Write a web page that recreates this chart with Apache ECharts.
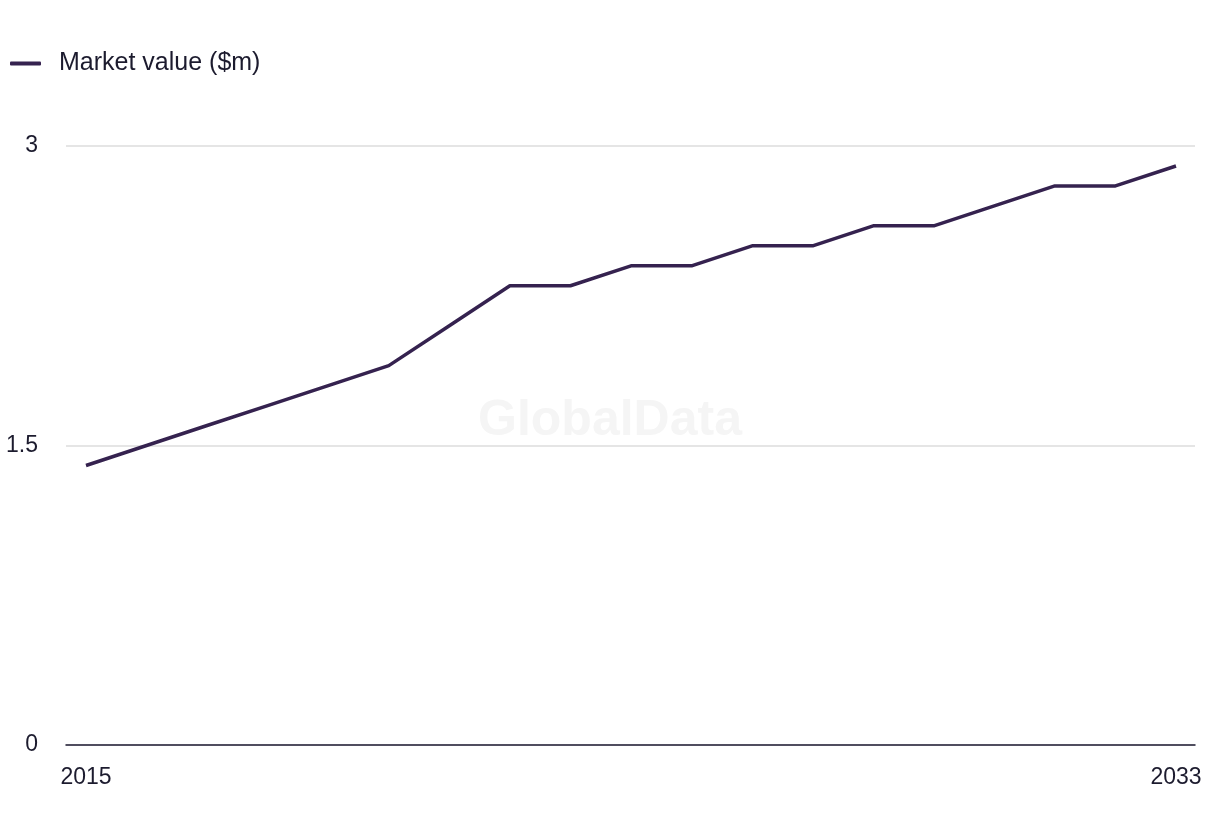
<!DOCTYPE html>
<html>
<head>
<meta charset="utf-8">
<script src="https://cdn.jsdelivr.net/npm/echarts@6/dist/echarts.min.js"></script>
<style>
html,body{margin:0;padding:0;background:#fff;}
#chart{width:1220px;height:836px;}
</style>
</head>
<body>
<div id="chart"></div>
<script>
const years = [2015,2016,2017,2018,2019,2020,2021,2022,2023,2024,2025,2026,2027,2028,2029,2030,2031,2032,2033];
const marketValue = [1.4,1.5,1.6,1.7,1.8,1.9,2.1,2.3,2.3,2.4,2.4,2.5,2.5,2.6,2.6,2.7,2.8,2.8,2.9];
const xTickLabels = [2015, 2033];
const yTicks = [0, 1.5, 3];
const seriesName = 'Market value ($m)';

const FONT = '"Liberation Sans", Arial, sans-serif';
const TEXT = '#1c1b2e';
const LINE = '#35224f';

const chart = echarts.init(document.getElementById('chart'), null, {renderer:'canvas'});
chart.setOption({
  animation: false,
  backgroundColor: '#fff',
  textStyle: {fontFamily: FONT},
  legend: {
    left: 5, top: 46,
    icon: 'roundRect',
    itemWidth: 31, itemHeight: 4,
    textStyle: {fontSize: 25, color: TEXT, fontFamily: FONT, padding: [0,0,0,13]},
    data: [seriesName]
  },
  graphic: [{
    type: 'text', left: 'center', top: 396, z: -1,
    style: {text: 'GlobalData', font: 'bold 50px ' + FONT, fill: '#f5f5f5'}
  }],
  grid: {left: 66, right: 25, top: 146, bottom: 91},
  xAxis: {
    type: 'value',
    min: 2015 - 20/60.556,
    max: 2033 + 19/60.556,
    splitLine: {show: false},
    axisTick: {show: false},
    axisLine: {show: true, lineStyle: {color: '#1f1d33', width: 1.5}},
    axisLabel: {
      customValues: xTickLabels,
      fontSize: 23, color: TEXT, margin: 21, fontFamily: FONT,
      formatter: v => String(v)
    }
  },
  yAxis: {
    type: 'value',
    min: yTicks[0], max: yTicks[2], interval: 1.5,
    axisLine: {show: false},
    axisTick: {show: false},
    splitLine: {show: true, lineStyle: {color: '#dcdcdc', width: 1.5}},
    axisLabel: {fontSize: 23, color: TEXT, margin: 28, fontFamily: FONT,
      formatter: v => String(v)}
  },
  series: [{
    name: seriesName,
    type: 'line',
    showSymbol: false,
    symbol: 'none',
    data: years.map((y,i) => [y, marketValue[i]]),
    lineStyle: {color: LINE, width: 3.5},
    itemStyle: {color: LINE}
  }]
});
</script>
</body>
</html>
